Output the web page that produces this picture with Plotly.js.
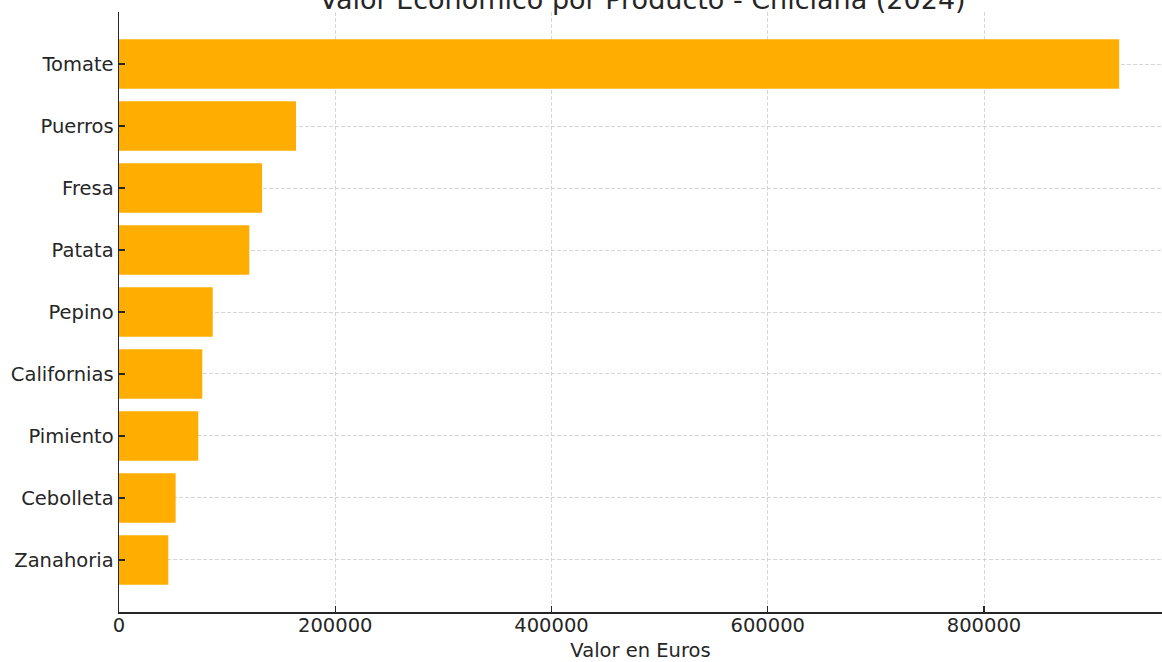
<!DOCTYPE html>
<html>
<head>
<meta charset="utf-8">
<script src="https://cdn.plot.ly/plotly-3.0.1.min.js"></script>
<style>html,body{margin:0;padding:0;background:#fff;}#chart{width:1162px;height:662px;}</style>
</head>
<body>
<div id="chart"></div>
<script>
const productos = ["Tomate", "Puerros", "Fresa", "Patata", "Pepino", "Californias", "Pimiento", "Cebolleta", "Zanahoria"];
const valores = [925000, 163700, 132300, 120500, 86700, 77000, 73300, 52400, 45600];
const xTicks = [0, 200000, 400000, 600000, 800000];
const xTickLabels = ["0", "200000", "400000", "600000", "800000"];

const FONT = "DejaVu Sans, sans-serif";
const TXT = "#262626";

const trace = {
  type: "bar",
  orientation: "h",
  y: productos,
  x: valores,
  width: 0.8,
  marker: {color: "#FFAE00", line: {width: 0}},
  hoverinfo: "x+y"
};

const layout = {
  width: 1162,
  height: 662,
  paper_bgcolor: "#ffffff",
  plot_bgcolor: "#ffffff",
  margin: {l: 119, r: 0, t: 12, b: 50, pad: 0},
  showlegend: false,
  font: {family: FONT, color: TXT, size: 19.5},
  title: {
    text: "Valor Económico por Producto - Chiclana (2024)",
    font: {family: FONT, size: 27, color: TXT},
    x: 0.553, xanchor: "center",
    y: 0.9864, yanchor: "bottom", yref: "container"
  },
  xaxis: {
    range: [0, 964600],
    tickvals: xTicks,
    ticktext: xTickLabels,
    ticks: "inside",
    ticklen: 6,
    tickwidth: 1.2,
    tickcolor: TXT,
    showline: true,
    linecolor: TXT,
    linewidth: 1.5,
    showgrid: true,
    gridcolor: "#cccccc",
    gridwidth: 0.8,
    griddash: "4px,2px",
    zeroline: false,
    ticklabelstandoff: -5,
    tickfont: {family: FONT, size: 19.5, color: TXT},
    title: {text: "Valor en Euros", font: {family: FONT, size: 19.5, color: TXT}, standoff: 8},
    automargin: false
  },
  yaxis: {
    type: "category",
    categoryorder: "array",
    categoryarray: productos,
    range: [8.84, -0.84],
    ticks: "inside",
    ticklen: 6,
    tickwidth: 1.2,
    tickcolor: TXT,
    showline: true,
    linecolor: TXT,
    linewidth: 1.5,
    showgrid: true,
    gridcolor: "#cccccc",
    gridwidth: 0.8,
    griddash: "4px,2px",
    zeroline: false,
    tickfont: {family: FONT, size: 19.5, color: TXT},
    automargin: false
  }
};

Plotly.newPlot("chart", [trace], layout, {displayModeBar: false, staticPlot: true});
</script>
</body>
</html>
